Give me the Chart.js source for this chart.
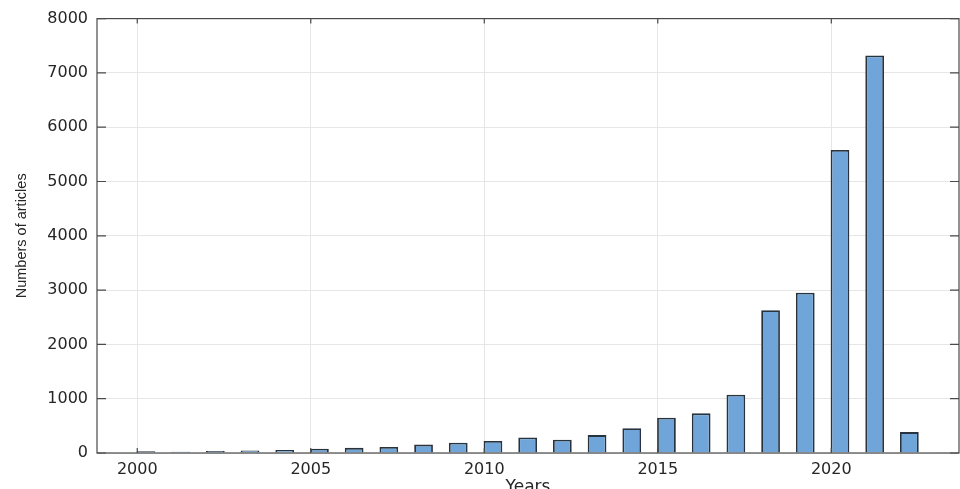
<!DOCTYPE html>
<html>
<head>
<meta charset="utf-8">
<script src="https://cdn.jsdelivr.net/npm/chart.js@4"></script>
<style>
  html, body { margin: 0; padding: 0; background: #fff; }
  #wrap { width: 960px; height: 489px; }
</style>
</head>
<body>
<div id="wrap"><canvas id="articlesChart" width="960" height="489"></canvas></div>
<script>
// values
const years = [2000, 2001, 2002, 2003, 2004, 2005, 2006, 2007, 2008, 2009, 2010, 2011,
               2012, 2013, 2014, 2015, 2016, 2017, 2018, 2019, 2020, 2021, 2022, 2023];
const articles = [30, 25, 35, 45, 55, 80, 95, 110, 155, 190, 220, 285,
                  245, 330, 455, 650, 730, 1075, 2630, 2950, 5580, 7320, 385, 5];
const xTickYears = [2000, 2005, 2010, 2015, 2020];
const yTicks = [0, 1000, 2000, 3000, 4000, 5000, 6000, 7000, 8000];

const axisColor = "#4a4a4a";
const textColor = "#262626";

// MATLAB style box around the axes, with ticks pointing inward
const boxPlugin = {
    id: "box",
    afterDatasetsDraw(chart) {
        const { ctx, chartArea: a, scales } = chart;
        ctx.save();
        ctx.strokeStyle = axisColor;
        ctx.lineWidth = 1.2;
        ctx.strokeRect(a.left, a.top, a.right - a.left, a.bottom - a.top);
        ctx.beginPath();
        xTickYears.forEach(v => {
            const px = scales.x.getPixelForValue(v);
            ctx.moveTo(px, a.bottom); ctx.lineTo(px, a.bottom - 5);
            ctx.moveTo(px, a.top); ctx.lineTo(px, a.top + 5);
        });
        yTicks.forEach(v => {
            const py = scales.y.getPixelForValue(v);
            ctx.moveTo(a.left, py); ctx.lineTo(a.left + 9, py);
            ctx.moveTo(a.right, py); ctx.lineTo(a.right - 9, py);
        });
        ctx.stroke();
        ctx.restore();
    }
};

document.addEventListener("DOMContentLoaded", () => {
    const ctx = document.getElementById("articlesChart").getContext("2d");
    new Chart(ctx, {
        type: "bar",
        data: {
            datasets: [{
                data: years.map((y, i) => ({ x: y + 0.25, y: articles[i] })),
                backgroundColor: "#6fa5d8",
                borderColor: "#28333e",
                borderWidth: 1.8,
                barPercentage: 0.54,
                categoryPercentage: 1
            }]
        },
        options: {
            responsive: false,
            animation: false,
            layout: { padding: { left: 0, right: 1, top: 13, bottom: 0 } },
            plugins: {
                legend: { display: false },
                tooltip: { enabled: false }
            },
            scales: {
                x: {
                    type: "linear",
                    offset: false,
                    min: 1998.84,
                    max: 2023.68,
                    afterBuildTicks: axis => { axis.ticks = xTickYears.map(v => ({ value: v })); },
                    afterFit: axis => { axis.height = 36; },
                    grid: { color: "#e6e6e6", drawTicks: false, offset: false },
                    border: { display: false },
                    ticks: {
                        padding: 7,
                        color: textColor,
                        maxRotation: 0,
                        autoSkip: false,
                        font: { family: "DejaVu Sans", size: 16 },
                        callback: v => String(v)
                    },
                    title: {
                        display: true,
                        text: "Years",
                        color: textColor,
                        font: { family: "DejaVu Sans", size: 17 },
                        padding: { top: 0, bottom: -9 }
                    }
                },
                y: {
                    min: 0,
                    max: 8000,
                    afterBuildTicks: axis => { axis.ticks = yTicks.map(v => ({ value: v })); },
                    afterFit: axis => { axis.width = 97; },
                    grid: { color: "#e6e6e6", drawTicks: false },
                    border: { display: false },
                    ticks: {
                        padding: 9,
                        color: textColor,
                        font: { family: "DejaVu Sans", size: 16 },
                        callback: v => String(v)
                    },
                    title: {
                        display: true,
                        text: "Numbers of articles",
                        color: textColor,
                        font: { family: "Liberation Sans", size: 14.5 },
                        padding: { top: 13, bottom: 0 }
                    }
                }
            }
        },
        plugins: [boxPlugin]
    });
});
</script>
</body>
</html>
